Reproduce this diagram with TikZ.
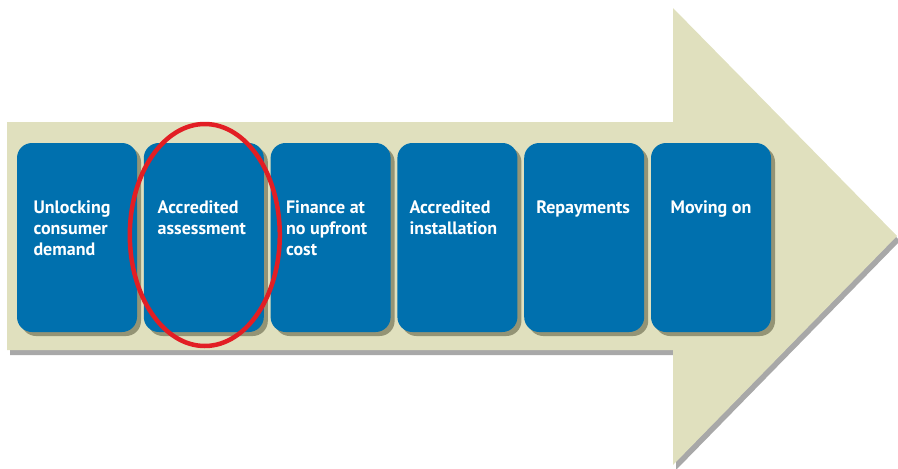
\documentclass[tikz,border=0pt]{standalone}
\usepackage{fontspec}
\setmainfont{PT Sans}
\usetikzlibrary{positioning,shapes.geometric,shadows}
\definecolor{arrowcream}{RGB}{224,224,190}
\definecolor{stepblue}{RGB}{0,112,174}
\definecolor{stepshade}{RGB}{140,140,110}
\definecolor{ringred}{RGB}{226,30,36}
\tikzset{
  stepbox/.style={fill=stepblue, rounded corners=15pt, minimum width=120pt,
    minimum height=189pt, inner sep=0pt,
    drop shadow={shadow xshift=4pt, shadow yshift=-4pt, fill=stepshade, opacity=0.9}},
  steptext/.style={text=white, font=\bfseries\fontsize{18}{21}\selectfont,
    align=left, inner sep=0pt, anchor=north},
  redring/.style={draw=ringred, line width=4.5pt, ellipse, minimum width=150pt,
    minimum height=222pt, inner sep=0pt},
}
\begin{document}
\begin{tikzpicture}[x=1pt,y=-1pt]
        \useasboundingbox (0,0) rectangle (898,469);

        % Big arrow
        \fill [arrowcream, drop shadow={shadow xshift=3pt, shadow yshift=-5pt, fill=black!38, opacity=0.9}]
          (7,122) -- (673,122) -- (673,8) -- (897,236) -- (673,465) -- (673,350) -- (7,350) -- cycle;

        % Nodes
        \node (b1) [stepbox] at (77,237.5) {};
        \node (b2) [stepbox, right=6.4pt of b1] {};
        \node (b3) [stepbox, right=6.4pt of b2] {};
        \node (b4) [stepbox, right=6.4pt of b3] {};
        \node (b5) [stepbox, right=6.4pt of b4] {};
        \node (b6) [stepbox, right=6.4pt of b5] {};

        \node (t1) [steptext] at ([xshift=-5pt, yshift=-58pt]b1.north) {Unlocking\\consumer\\demand};
        \node (t2) [steptext] at ([xshift=-2pt, yshift=-58pt]b2.north) {Accredited\\assessment};
        \node (t3) [steptext] at ([xshift=-4pt, yshift=-58pt]b3.north) {Finance at\\no upfront\\cost};
        \node (t4) [steptext] at ([xshift=-4pt, yshift=-58pt]b4.north) {Accredited\\installation};
        \node (t5) [steptext] at ([xshift=-1pt, yshift=-58pt]b5.north) {Repayments};
        \node (t6) [steptext] at ([yshift=-58pt]b6.north) {Moving on};

        % Highlight
        \node (ring) [redring] at ([xshift=1pt, yshift=2.5pt]b2.center) {};
\end{tikzpicture}
\end{document}
